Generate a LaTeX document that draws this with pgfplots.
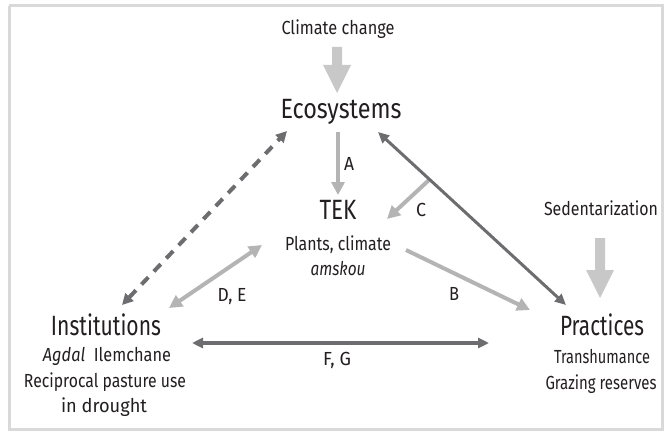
\documentclass[border=0pt]{standalone}
\usepackage{fontspec}
\setmainfont{Fira Sans}
\usepackage{graphicx}
\usepackage{pgfplots}
\pgfplotsset{compat=1.18}
\usetikzlibrary{arrows.meta}
\definecolor{lg}{HTML}{B4B4B4}
\definecolor{bg}{HTML}{C8C8C8}
\definecolor{dg}{HTML}{6D6D6F}
\definecolor{fr}{HTML}{D9D9D9}
\definecolor{tx}{HTML}{231F20}
\newcommand{\fitw}[2]{\resizebox{#1bp}{\height}{#2}}
\begin{document}
\begin{tikzpicture}
\begin{axis}[width=669bp,height=434bp,scale only axis,
  xmin=0,xmax=669,ymin=0,ymax=434,y dir=reverse,hide axis,clip=false]
\addplot[draw=none] coordinates {(0,0) (669,434)};
\addplot[fr, line width=3bp, line join=miter] coordinates {(9,6) (662,6) (662,429) (9,429) (9,6)};
% block arrows
\addplot[fill=bg, draw=none] coordinates {(332,47) (342,47) (342,65) (351,65) (337,93) (323,65) (332,65)} -- cycle;
\addplot[fill=bg, draw=none] coordinates {(595,238) (605,238) (605,270) (614,270) (600,298) (586,270) (595,270)} -- cycle;
% light arrows
\addplot[lg, line width=4bp, -{Triangle[length=13bp,width=13bp]}] coordinates {(338,132) (338,195)};
\addplot[lg, line width=4bp, -{Triangle[length=13bp,width=13bp]}] coordinates {(429,180) (387,219)};
\addplot[lg, line width=4bp, -{Triangle[length=13bp,width=13bp]}] coordinates {(406,250) (530,310)};
\addplot[lg, line width=4bp, {Triangle[length=13bp,width=13bp]}-{Triangle[length=13bp,width=13bp]}] coordinates {(169,308) (262,245)};
% dark arrows
\addplot[dg, line width=3bp, {Triangle[length=11bp,width=10bp]}-{Triangle[length=11bp,width=10bp]}] coordinates {(378,132) (566,305)};
\addplot[dg, line width=4bp, dash pattern=on 10bp off 8bp, {Triangle[length=11bp,width=11bp]}-{Triangle[length=11bp,width=11bp]}] coordinates {(122,305) (287,131)};
\addplot[dg, line width=3.5bp, {Triangle[length=11bp,width=10bp]}-{Triangle[length=11bp,width=10bp]}] coordinates {(192,343) (489,343)};
% text
\tikzset{big/.style={font=\fontsize{28}{32}\selectfont, text=tx, anchor=base, inner sep=0pt},
  sm/.style={font=\fontsize{19}{22}\selectfont, text=tx, anchor=base, inner sep=0pt}}
\node[sm] at (axis cs:338,35) {\fitw{113}{Climate change}};
\node[big] at (axis cs:341,118) {\fitw{121}{Ecosystems}};
\node[big] at (axis cs:338,219) {\fitw{37}{TEK}};
\node[sm] at (axis cs:338,250) {\fitw{106}{Plants, climate}};
\node[sm] at (axis cs:338,275) {\fitw{55}{\itshape amskou}};
\node[sm] at (axis cs:349,170) {\fitw{10}{A}};
\node[sm] at (axis cs:421,216) {\fitw{10}{C}};
\node[sm] at (axis cs:454,300) {\fitw{10}{B}};
\node[sm] at (axis cs:232,301) {\fitw{29}{D, E}};
\node[sm] at (axis cs:337,365) {\fitw{28}{F, G}};
\node[sm] at (axis cs:601,215) {\fitw{114}{Sedentarization}};
\node[big] at (axis cs:106,335) {\fitw{110}{Institutions}};
\node[sm] at (axis cs:107,361) {\fitw{128}{\textit{Agdal}\ \ Ilemchane}};
\node[sm] at (axis cs:105,387) {\fitw{162}{Reciprocal pasture use}};
\node[sm] at (axis cs:104,412) {\fitw{86}{in drought}};
\node[big] at (axis cs:602,335) {\fitw{84}{Practices}};
\node[sm] at (axis cs:602,363) {\fitw{96}{Transhumance}};
\node[sm] at (axis cs:601,389) {\fitw{111}{Grazing reserves}};
\end{axis}
\end{tikzpicture}
\end{document}
